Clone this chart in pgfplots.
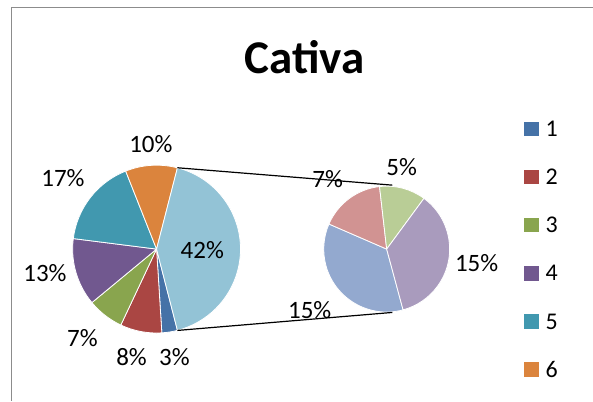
\documentclass[border=0pt]{standalone}
\usepackage{fontspec}
\setmainfont{Carlito}
\usepackage{pgfplots}
\usepackage{pgfplotstable}
\pgfplotsset{compat=1.18}
\definecolor{c1}{HTML}{4572A7}
\definecolor{c2}{HTML}{AA4643}
\definecolor{c3}{HTML}{89A54E}
\definecolor{c4}{HTML}{71588F}
\definecolor{c5}{HTML}{4198AF}
\definecolor{c6}{HTML}{DB843D}
\definecolor{c7}{HTML}{93A9CF}
\definecolor{c8}{HTML}{D19392}
\definecolor{c9}{HTML}{B9CD96}
\definecolor{c10}{HTML}{A99BBD}
\definecolor{c11}{HTML}{93C3D6}
\definecolor{framegray}{HTML}{8C8C8C}

% main pie: series 1..6 and the combined "other" slice
\pgfplotstableread{
val col
3 c1
8 c2
7 c3
13 c4
17 c5
10 c6
42 c11
}\maintable
% second pie: the split of the 42% slice
\pgfplotstableread{
val col
15 c7
7 c8
5 c9
15 c10
}\subtable

\newcommand\buildpie[7]{%
  \gdef#7{}\xdef\curang{#5}%
  \pgfplotstablegetrowsof{#1}\pgfmathtruncatemacro\lastrow{\pgfplotsretval-1}%
  \foreach \i in {0,...,\lastrow}{%
    \pgfplotstablegetelem{\i}{val}\of#1\let\sliceval\pgfplotsretval
    \pgfplotstablegetelem{\i}{col}\of#1\let\slicecol\pgfplotsretval
    \pgfmathsetmacro\endang{\curang-\sliceval*360/#6}%
    \xdef#7{\unexpanded\expandafter{#7}\noexpand\fill[\slicecol,draw=white,line width=0.8pt] (axis cs:#2,#3) -- ++(\curang:#4pt) arc[start angle=\curang,end angle=\endang,radius=#4pt] -- cycle;}%
    \xdef\curang{\endang}%
  }}

\begin{document}
\buildpie{\maintable}{156.7}{249.3}{84}{-75.6}{100}{\mainpie}%
\buildpie{\subtable}{387}{249.3}{63}{-74.9}{42}{\subpie}%
\begin{tikzpicture}
\begin{axis}[hide axis, scale only axis, width=593pt, height=401pt,
  xmin=0, xmax=593, ymin=0, ymax=401, y dir=reverse, clip=false]
\path (axis cs:0,0) rectangle (axis cs:593,401);
\draw[framegray, line width=1pt] (axis cs:11.5,401) -- (axis cs:11.5,8) -- (axis cs:593,8);
\mainpie
\subpie
\draw[black, line width=1.2pt] (axis cs:177.6,167.9) -- (axis cs:392.7,185.3);
\draw[black, line width=1.2pt] (axis cs:177.6,330.7) -- (axis cs:392.7,312.7);
\node[anchor=base, font=\fontsize{47}{50}\selectfont\bfseries] at (axis cs:305,74) {Cativa};
\begin{scope}[every node/.style={anchor=base, inner sep=0pt, font=\fontsize{25}{28}\selectfont}]
\node at (axis cs:151,152.7) {10\%};
\node at (axis cs:63,186.5) {17\%};
\node at (axis cs:45,282) {13\%};
\node at (axis cs:202.5,258.3) {42\%};
\node at (axis cs:82.5,346.5) {7\%};
\node at (axis cs:131.7,366) {8\%};
\node at (axis cs:174.5,366) {3\%};
\node at (axis cs:328,188) {7\%};
\node at (axis cs:402,176) {5\%};
\node at (axis cs:477,272) {15\%};
\node at (axis cs:310,318.5) {15\%};
\end{scope}
\pgfplotsinvokeforeach{1,...,6}{
  \fill[c#1] (axis cs:524,{136.5+(#1-1)*48.2-14.8}) rectangle (axis cs:539,{136.5+(#1-1)*48.2-0.3});
  \node[anchor=base west, inner sep=0pt, font=\fontsize{24}{28}\selectfont] at (axis cs:546,{136.6+(#1-1)*48.2}) {#1};
}
\end{axis}
\end{tikzpicture}
\end{document}
